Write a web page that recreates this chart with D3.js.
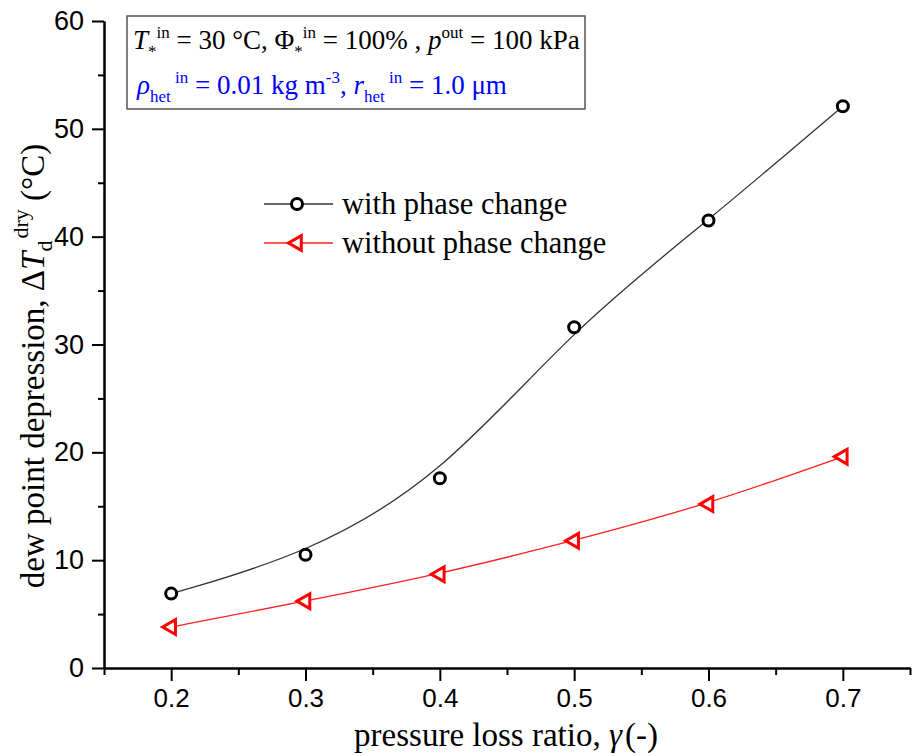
<!DOCTYPE html>
<html>
<head>
<meta charset="utf-8">
<script src="https://cdn.jsdelivr.net/npm/d3@7"></script>
<style>
    body { margin: 0; background: #fff; }
    svg { display: block; }
    .tick text { font-family: "Liberation Sans", Arial, sans-serif; fill: #000; }
    .serif { font-family: "Liberation Serif", "Times New Roman", serif; }
</style>
</head>
<body>
<svg width="913" height="756"></svg>
<script>
// values
const gamma = [0.2, 0.3, 0.4, 0.5, 0.6, 0.7];
const withPhase = [6.9, 10.5, 17.6, 31.6, 41.5, 52.1];
const withoutPhase = [3.8, 6.2, 8.7, 11.8, 15.2, 19.6];
const xTicks = [0.2, 0.3, 0.4, 0.5, 0.6, 0.7];
const xMinor = [0.15, 0.25, 0.35, 0.45, 0.55, 0.65, 0.75];
const yTicks = [0, 10, 20, 30, 40, 50, 60];
const yMinor = [5, 15, 25, 35, 45, 55];
const seriesNames = ["with phase change", "without phase change"];

const width = 913,
    height = 756;
const margin = { top: 21, right: 3, bottom: 88, left: 104 };

const svg = d3.select("svg");

const x = d3.scaleLinear().domain([0.15, 0.75]).range([margin.left, width - margin.right]);
const y = d3.scaleLinear().domain([0, 60]).range([height - margin.bottom, margin.top]);

// axes
const xAxis = svg.append("g").attr("transform", `translate(0,${y(0)})`);
xAxis.call(d3.axisBottom(x).tickValues(xTicks).tickFormat(d3.format(".1f")).tickSize(13).tickSizeOuter(0).tickPadding(8));
xAxis.append("g").call(d3.axisBottom(x).tickValues(xMinor).tickFormat("").tickSize(7).tickSizeOuter(0));
xAxis.selectAll("text").attr("font-size", 26);

const yAxis = svg.append("g").attr("transform", `translate(${x(0.15)},0)`);
yAxis.call(d3.axisLeft(y).tickValues(yTicks).tickSize(12).tickSizeOuter(0).tickPadding(8));
yAxis.append("g").call(d3.axisLeft(y).tickValues(yMinor).tickFormat("").tickSize(6).tickSizeOuter(0));
yAxis.selectAll("text").attr("font-size", 27);

svg.selectAll(".domain, .tick line").attr("stroke", "#000").attr("stroke-width", 2);

// curves
const line = d3
    .line()
    .x((d) => x(d[0]))
    .y((d) => y(d[1]))
    .curve(d3.curveBasis);

const blackPts = gamma.map((g, i) => [g, withPhase[i]]);
const redPts = gamma.map((g, i) => [g, withoutPhase[i]]);

svg.append("path").datum(blackPts).attr("d", line).attr("fill", "none").attr("stroke", "#333").attr("stroke-width", 1.3);
svg.append("path").datum(redPts).attr("d", line).attr("fill", "none").attr("stroke", "#ff2020").attr("stroke-width", 1.3);

const tri = d3.symbol().type(d3.symbolTriangle).size(95);

svg.append("g")
    .selectAll("circle")
    .data(blackPts)
    .enter()
    .append("circle")
    .attr("cx", (d) => x(d[0]))
    .attr("cy", (d) => y(d[1]))
    .attr("r", 5.5)
    .attr("fill", "#fff")
    .attr("stroke", "#000")
    .attr("stroke-width", 3);

svg.append("g")
    .selectAll("path")
    .data(redPts)
    .enter()
    .append("path")
    .attr("d", tri)
    .attr("transform", (d) => `translate(${x(d[0])},${y(d[1])}) rotate(-90)`)
    .attr("fill", "#fff")
    .attr("stroke", "#ff0000")
    .attr("stroke-width", 3);

// legend
const legend = svg.append("g").attr("class", "serif");
const legRows = [
    { y: 204, color: "#333", mark: "circle" },
    { y: 243, color: "#ff2020", mark: "tri" },
];
legRows.forEach((r, i) => {
    legend.append("line").attr("x1", 264).attr("x2", 333).attr("y1", r.y).attr("y2", r.y).attr("stroke", r.color).attr("stroke-width", 1.3);
    if (r.mark === "circle") {
        legend.append("circle").attr("cx", 297).attr("cy", r.y).attr("r", 5.5).attr("fill", "#fff").attr("stroke", "#000").attr("stroke-width", 3);
    } else {
        legend.append("path").attr("d", tri).attr("transform", `translate(297,${r.y}) rotate(-90)`).attr("fill", "#fff").attr("stroke", "#ff0000").attr("stroke-width", 3);
    }
    legend.append("text").attr("x", 342).attr("y", r.y + 10).attr("font-size", 30.5).text(seriesNames[i]);
});

// parameter box
svg.append("rect").attr("x", 127).attr("y", 16).attr("width", 458).attr("height", 93).attr("fill", "#fff").attr("stroke", "#555").attr("stroke-width", 1.5);

const l1 = svg.append("text").attr("class", "serif").attr("x", 133).attr("y", 49).attr("font-size", 27).attr("fill", "#000");
l1.append("tspan").attr("font-style", "italic").text("T");
l1.append("tspan").attr("font-size", 17).attr("dy", 8).text("*");
l1.append("tspan").attr("font-size", 17).attr("dy", -19).text("in");
l1.append("tspan").attr("dy", 11).text(" = 30 °C, Φ");
l1.append("tspan").attr("font-size", 17).attr("dy", 8).text("*");
l1.append("tspan").attr("font-size", 17).attr("dy", -19).text("in");
l1.append("tspan").attr("dy", 11).text(" = 100% , ");
l1.append("tspan").attr("font-style", "italic").text("p");
l1.append("tspan").attr("font-size", 17).attr("dy", -11).text("out");
l1.append("tspan").attr("dy", 11).text(" = 100 kPa");

const l2 = svg.append("text").attr("class", "serif").attr("x", 137).attr("y", 94).attr("font-size", 27).attr("fill", "#0000ff");
l2.append("tspan").attr("font-style", "italic").text("ρ");
l2.append("tspan").attr("font-size", 17).attr("dy", 8).text("het");
l2.append("tspan").attr("font-size", 17).attr("dy", -19).text(" in");
l2.append("tspan").attr("dy", 11).text(" = 0.01 kg m");
l2.append("tspan").attr("font-size", 17).attr("dy", -11).text("-3");
l2.append("tspan").attr("dy", 11).text(", ");
l2.append("tspan").attr("font-style", "italic").text("r");
l2.append("tspan").attr("font-size", 17).attr("dy", 8).text("het");
l2.append("tspan").attr("font-size", 17).attr("dy", -19).text(" in");
l2.append("tspan").attr("dy", 11).text(" = 1.0 μm");

// axis titles
const xt = svg.append("text").attr("class", "serif").attr("x", 506).attr("y", 746).attr("text-anchor", "middle").attr("font-size", 33);
xt.append("tspan").text("pressure loss ratio, ");
xt.append("tspan").attr("font-style", "italic").text("γ");
xt.append("tspan").attr("dx", 3).text("(-)");

const yt = svg.append("text").attr("class", "serif").attr("transform", "translate(44,366) rotate(-90)").attr("text-anchor", "middle").attr("font-size", 33);
yt.append("tspan").text("dew point depression, Δ");
yt.append("tspan").attr("font-style", "italic").text("T");
yt.append("tspan").attr("font-size", 22).attr("dy", 8).text("d");
yt.append("tspan").attr("font-size", 22).attr("dy", -24).attr("dx", 2).text("dry");
yt.append("tspan").attr("dy", 16).text(" (°C)");
</script>
</body>
</html>
